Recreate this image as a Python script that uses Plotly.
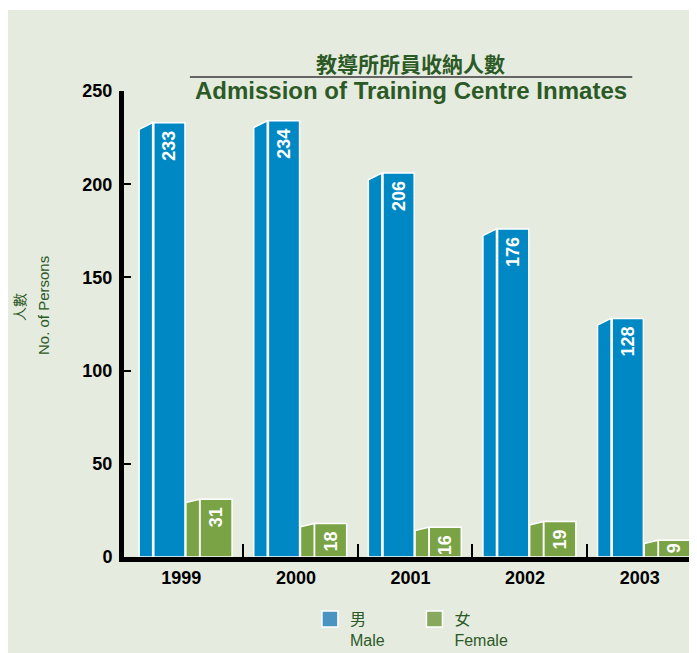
import plotly.graph_objects as go

years = ["1999", "2000", "2001", "2002", "2003"]
male = [233, 234, 206, 176, 128]
female = [31, 18, 16, 19, 9]
y_ticks = [0, 50, 100, 150, 200, 250]

title_zh = "教導所所員收納人數"
title_en = "Admission of Training Centre Inmates"
ytitle_zh = "人數"
ytitle_en = "No. of Persons"
legend_male = "男<br>Male"
legend_female = "女<br>Female"

BLUE = "#0088c4"
GREEN = "#79a345"
BG = "#e6ebdf"
DKGREEN = "#2b5a26"
FONT = "Liberation Sans, Arial, sans-serif"
MIX = "Liberation Sans, Noto Sans CJK TC, sans-serif"
CJK = "Noto Sans CJK TC, Liberation Sans, sans-serif"

xs = list(range(len(years)))


def side_poly(vals, a0, a1, d):
    px, py = [], []
    for i, v in zip(xs, vals):
        px += [i + a0, i + a0, i + a1, i + a1, i + a0, None]
        py += [0, v - d, v, 0, 0, None]
    return px, py


def label(v):
    # small top padding inside tall bars
    return str(v) + ("\u00a0" if v >= 12 else "")


fig = go.Figure()

# side faces (pseudo-3D)
mx, my = side_poly(male, -0.368, -0.250, 3.6)
fig.add_trace(go.Scatter(x=mx, y=my, mode="lines", fill="toself", fillcolor=BLUE,
                         line=dict(color="white", width=1.5), showlegend=False,
                         hoverinfo="skip"))
fx, fy = side_poly(female, 0.040, 0.160, 1.8)
fig.add_trace(go.Scatter(x=fx, y=fy, mode="lines", fill="toself", fillcolor=GREEN,
                         line=dict(color="white", width=1.5), showlegend=False,
                         hoverinfo="skip"))

# front faces
fig.add_trace(go.Bar(x=xs, y=male, offset=-0.240, width=0.272,
                     marker=dict(color=BLUE, line=dict(color="white", width=1.5)),
                     text=[label(v) for v in male], textposition="inside",
                     insidetextanchor="end", textangle=-90, constraintext="none",
                     textfont=dict(family=FONT, size=18, color="white", weight="bold"),
                     showlegend=False))
fig.add_trace(go.Bar(x=xs, y=female, offset=0.163, width=0.280,
                     marker=dict(color=GREEN, line=dict(color="white", width=1.5)),
                     text=[label(v) for v in female], textposition="inside",
                     insidetextanchor="end", textangle=-90, constraintext="none",
                     textfont=dict(family=FONT, size=18, color="white", weight="bold"),
                     showlegend=False))

# legend entries
fig.add_trace(go.Scatter(x=[None], y=[None], mode="markers", name=legend_male,
                         marker=dict(symbol="square", size=16, color="#4a95c0",
                                     line=dict(color="white", width=1.5))))
fig.add_trace(go.Scatter(x=[None], y=[None], mode="markers", name=legend_female,
                         marker=dict(symbol="square", size=16, color="#87a95e",
                                     line=dict(color="white", width=1.5))))

fig.update_layout(
    width=689, height=645,
    margin=dict(l=116, r=0, t=83, b=96, autoexpand=False),
    paper_bgcolor=BG, plot_bgcolor=BG,
    barmode="overlay",
    font=dict(family=FONT, color="black"),
    showlegend=True,
    legend=dict(orientation="h", x=0.3245, xanchor="left", y=-0.097, yanchor="top",
                valign="top", entrywidth=59.5, entrywidthmode="pixels",
                bgcolor="rgba(0,0,0,0)",
                font=dict(family=MIX, size=16, color=DKGREEN)),
    xaxis=dict(range=[-0.5, 4.5], tickmode="array", tickvals=xs, ticktext=years,
               ticks="", showline=True, linecolor="black", linewidth=5,
               showgrid=False, zeroline=False, ticklabelstandoff=0,
               tickfont=dict(family=FONT, size=18, color="black", weight="bold"),
               minor=dict(tickmode="array", tickvals=[i + 0.54 for i in xs[:-1]],
                          ticks="inside", ticklen=13, tickwidth=1.5, tickcolor="black",
                          showgrid=False)),
    yaxis=dict(range=[0, 250], tickmode="array", tickvals=y_ticks,
               ticks="inside", ticklen=7, tickwidth=1.5, tickcolor="black",
               showline=True, linecolor="black", linewidth=5,
               showgrid=False, zeroline=False, ticklabelstandoff=3,
               tickfont=dict(family=FONT, size=18, color="black", weight="bold")),
    shapes=[
        dict(type="rect", xref="paper", yref="paper", x0=-0.3, x1=1.01,
             y0=1 + 81 / 466, y1=1 + 90 / 466, fillcolor="white", line_width=0,
             layer="below"),
        dict(type="line", xref="paper", yref="paper", x0=0.115, x1=0.887,
             y0=1 + 14 / 466, y1=1 + 14 / 466, line=dict(color="#3a3a3a", width=1.5)),
    ],
    annotations=[
        dict(text=title_zh, xref="paper", yref="paper", x=0.500, y=1 + 28 / 466,
             xanchor="center", yanchor="middle", showarrow=False,
             font=dict(family=CJK, size=21, color=DKGREEN, weight="bold")),
        dict(text=title_en, xref="paper", yref="paper", x=0.501, y=1 + 0.5 / 466,
             xanchor="center", yanchor="middle", showarrow=False,
             font=dict(family=FONT, size=24, color=DKGREEN, weight="bold")),
        dict(text=ytitle_zh, xref="paper", yref="paper", x=-105 / 573, y=(557 - 307) / 466,
             xanchor="center", yanchor="middle", showarrow=False, textangle=-90,
             font=dict(family=CJK, size=14, color=DKGREEN)),
        dict(text=ytitle_en, xref="paper", yref="paper", x=-81 / 573, y=(557 - 306) / 466,
             xanchor="center", yanchor="middle", showarrow=False, textangle=-90,
             font=dict(family=FONT, size=15, color=DKGREEN)),
    ],
)

fig.write_html("out.html")
